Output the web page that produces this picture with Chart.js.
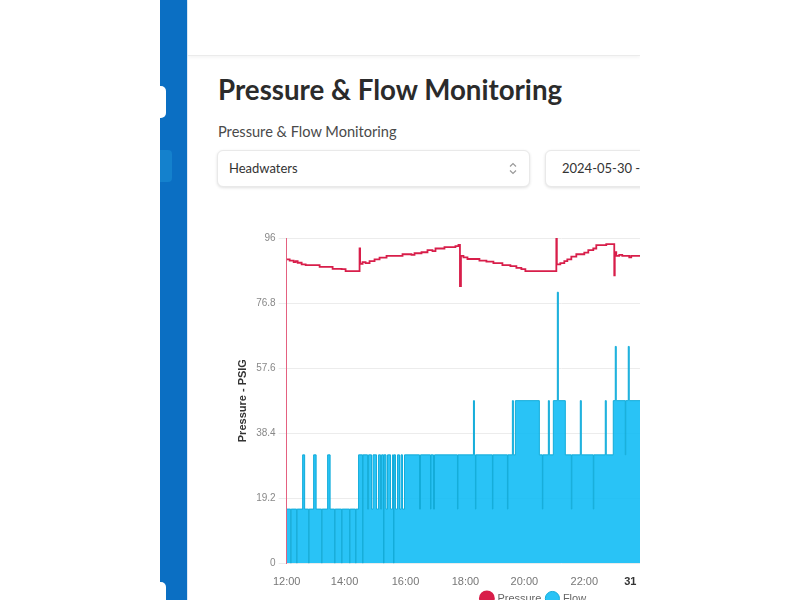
<!DOCTYPE html>
<html lang="en">
<head>
<meta charset="UTF-8">
<title>Pressure & Flow Monitoring</title>
<script src="https://cdn.jsdelivr.net/npm/chart.js"></script>
<style>
  body { margin: 0; background: #fff; font-family: Lato, sans-serif; overflow: hidden; }
  .frame { position: absolute; left: 160px; top: 0; width: 480px; height: 600px; overflow: hidden; background: #fff; }
  .sidebar { position: absolute; left: 0; top: 0; width: 27px; height: 600px; background: #0b6fc3; border-right: 1px solid #dbe9f6; }
  .tab { position: absolute; left: 0; width: 6px; background: #fff; border-radius: 0 5px 5px 0; }
  .tab.top { top: 86px; height: 32px; }
  .tab.bottom { top: 582px; height: 30px; }
  .active { position: absolute; left: 0; top: 150px; width: 12px; height: 32px; background: #1481cd; border-radius: 0 4px 4px 0; }
  .header { position: absolute; left: 28px; top: 0; right: 0; height: 55px; background: #fff; border-bottom: 1px solid #ebebeb; box-shadow: 0 2px 3px rgba(0,0,0,0.04); }
  h1 { position: absolute; left: 58px; top: 76px; margin: 0; font-size: 27.7px; line-height: 28px; font-weight: 700; color: #2b2b2b; white-space: nowrap; }
  .sub { position: absolute; left: 58px; top: 124px; font-size: 14.6px; line-height: 15px; color: #4a4a4a; white-space: nowrap; }
  .box { position: absolute; top: 150px; height: 35px; background: #fff; border: 1px solid #e9e9e9; border-radius: 6px; box-shadow: 0 1px 3px rgba(0,0,0,0.12); font-size: 13px; color: #333; line-height: 35px; white-space: nowrap; }
  .select { left: 57px; width: 311px; }
  .select span { position: absolute; left: 11px; }
  .select svg { position: absolute; left: 291px; top: 11px; }
  .date { left: 385px; width: 220px; }
  .date span { position: absolute; left: 16px; }
  .chart-wrap { position: absolute; left: 72px; top: 229px; width: 610px; height: 385px; }
</style>
</head>
<body>
<div class="frame">
  <div class="sidebar">
    <div class="tab top"></div>
    <div class="active"></div>
    <div class="tab bottom"></div>
  </div>
  <div class="header"></div>
  <h1>Pressure &amp; Flow Monitoring</h1>
  <div class="sub">Pressure &amp; Flow Monitoring</div>
  <div class="box select">
    <span>Headwaters</span>
    <svg width="8" height="13" viewBox="0 0 8 13"><path d="M1 4.5 L4 1.5 L7 4.5 M1 8.5 L4 11.5 L7 8.5" fill="none" stroke="#9a9a9a" stroke-width="1.2"/></svg>
  </div>
  <div class="box date"><span>2024-05-30 - 2024-05-31</span></div>
  <div class="chart-wrap"><canvas id="pfChart"></canvas></div>
</div>

<script>
    // x positions are minutes after 12:00 on 2024-05-30
    const tickPos = [0, 116, 238, 358, 476, 596, 688];
    const tickLabels = ['12:00', '14:00', '16:00', '18:00', '20:00', '22:00', '31'];
    const yTicks = [0, 19.2, 38.4, 57.6, 76.8, 96];
    const xMax = 1100;

    // Pressure (PSIG), value holds until the next reading
    const pressureT = [0, 6, 14, 18, 22, 30, 38, 66, 92, 110, 118, 146, 147, 152, 158, 166, 176, 186, 200, 232,
        250, 256, 270, 282, 292, 298, 316, 338, 344, 347, 349, 354, 362, 386, 400, 414, 432, 448, 460, 470,
        478, 540, 541, 548, 556, 562, 570, 580, 596, 604, 614, 620, 640, 656, 657, 660, 666, 672, 686, 690,
        760, 860, 960, 1060, 1100];
    const pressureV = [89.7, 89.3, 88.9, 89.2, 88.7, 88.2, 88.0, 87.5, 86.9, 86.8, 86.2, 92.9, 88.4, 88.9, 88.6, 89.2, 89.7, 90.2, 90.7, 91.2,
        91.0, 91.5, 91.8, 92.4, 92.1, 92.9, 93.3, 93.6, 94.0, 81.8, 90.7, 90.3, 89.8, 89.3, 89.0, 88.6, 88.0, 87.7, 87.2, 86.8,
        86.2, 96.0, 88.2, 88.6, 89.2, 89.7, 90.5, 91.2, 91.7, 92.4, 92.9, 93.9, 94.2, 85.0, 91.8, 90.7, 91.0, 90.7, 90.3, 90.7,
        91.2, 90.5, 89.8, 90.2, 90.2];

    // Flow
    const flowT = [0, 8, 9, 20, 21, 32, 36, 44, 45, 54, 59, 70, 71, 82, 87, 96, 97, 110, 111, 126, 127, 138, 139,
        144, 152, 153, 162, 164, 170, 173, 180, 184, 188, 190, 194, 195, 199, 202, 208, 212, 214, 215, 218, 222, 226, 229, 232, 236,
        266, 268, 288, 289, 294, 296, 342, 343, 374, 376, 378, 379, 412, 413, 442, 443,
        452, 454, 458, 506, 512, 513, 524, 526, 534, 542, 544, 558, 570, 571, 588, 590, 614, 615, 638, 640,
        654, 658, 660, 678, 679, 684, 686, 730, 760, 800, 860, 920, 980, 1100];
    const flowV = [16, 0, 16, 0, 16, 32, 16, 0, 16, 32, 16, 0, 16, 32, 16, 0, 16, 0, 16, 0, 16, 0, 16,
        32, 0, 32, 16, 32, 16, 32, 16, 32, 16, 32, 0, 32, 16, 32, 16, 32, 0, 32, 16, 32, 16, 32, 16, 32,
        16, 32, 16, 32, 16, 32, 16, 32, 48, 32, 16, 32, 16, 32, 16, 32,
        48, 32, 48, 32, 16, 32, 48, 32, 48, 80, 48, 32, 16, 32, 48, 32, 16, 32, 48, 32,
        48, 64, 48, 32, 48, 64, 48, 32, 48, 32, 16, 32, 16, 16];

    const ctx = document.getElementById('pfChart').getContext('2d');
    new Chart(ctx, {
        type: 'line',
        data: {
            datasets: [{
                label: 'Pressure',
                data: pressureT.map((t, i) => ({ x: t, y: pressureV[i] })),
                borderColor: '#d81e4a',
                backgroundColor: '#d81e4a',
                borderWidth: 1.8,
                stepped: 'before',
                pointRadius: 0,
                fill: false
            }, {
                label: 'Flow',
                data: flowT.map((t, i) => ({ x: t, y: flowV[i] })),
                borderColor: '#13acd9',
                backgroundColor: 'rgba(18, 188, 245, 0.9)',
                borderWidth: 1,
                stepped: 'before',
                pointRadius: 0,
                fill: 'origin'
            }]
        },
        options: {
            responsive: true,
            maintainAspectRatio: false,
            animation: false,
            layout: { padding: { right: 6 } },
            plugins: {
                legend: {
                    position: 'bottom',
                    labels: { usePointStyle: true, pointStyle: 'circle', boxWidth: 10, boxHeight: 10, padding: 6, color: '#666', font: { size: 11 } }
                },
                tooltip: { enabled: false }
            },
            scales: {
                x: {
                    type: 'linear',
                    min: 0,
                    max: xMax,
                    grid: { display: false },
                    border: { display: false },
                    afterBuildTicks: scale => { scale.ticks = tickPos.map(v => ({ value: v })); },
                    afterFit: scale => { scale.height -= 6.5; },
                    ticks: {
                        autoSkip: false,
                        maxRotation: 0,
                        padding: 4.5,
                        color: c => (c.tick && c.tick.value === 688) ? '#333' : '#777',
                        font: c => ({ size: 11, weight: (c.tick && c.tick.value === 688) ? 'bold' : 'normal' }),
                        callback: v => tickLabels[tickPos.indexOf(v)]
                    }
                },
                y: {
                    min: 0,
                    max: 96,
                    afterBuildTicks: scale => { scale.ticks = yTicks.map(v => ({ value: v })); },
                    grid: { color: '#ececec' },
                    border: { color: 'rgba(216, 30, 74, 0.7)' },
                    ticks: { color: '#888', font: { size: 10 }, callback: v => String(v) },
                    title: { display: true, text: 'Pressure - PSIG', color: '#333', font: { size: 11, weight: 'bold' } }
                }
            }
        }
    });
</script>
</body>
</html>
